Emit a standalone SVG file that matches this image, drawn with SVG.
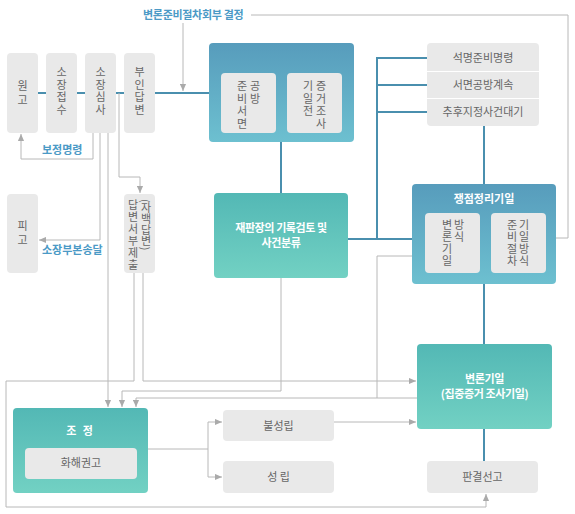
<svg xmlns="http://www.w3.org/2000/svg" width="575" height="514" viewBox="0 0 575 514">
<defs>
<linearGradient id="gBlue" x1="0" y1="0" x2="0" y2="1"><stop offset="0" stop-color="#579cbc"/><stop offset="1" stop-color="#6dc0d0"/></linearGradient>
<linearGradient id="gTeal" x1="0" y1="0" x2="0" y2="1"><stop offset="0" stop-color="#53b8b5"/><stop offset="1" stop-color="#72d1c3"/></linearGradient>
<marker id="ah" viewBox="0 0 8 8" refX="8" refY="4" markerWidth="7" markerHeight="7" markerUnits="userSpaceOnUse" orient="auto"><path d="M0,0.5 L8,4 L0,7.5z" fill="#aaaaaa"/></marker>
<style>
.gb{fill:#e9e9e9}
.t{font-family:"Noto Sans CJK KR","Noto Sans",sans-serif;font-size:11px;fill:#666;text-anchor:middle}
.v{font-family:"Noto Sans CJK KR","Noto Sans",sans-serif;font-size:11px;fill:#666;writing-mode:vertical-rl;text-anchor:start}
.w{font-family:"Noto Sans CJK KR","Noto Sans",sans-serif;font-size:11px;fill:#fff;text-anchor:middle;font-weight:bold}
.lb{font-family:"Noto Sans CJK KR","Noto Sans",sans-serif;font-size:11px;fill:#4b9ac6;font-weight:bold}
.bl{stroke:#4a8fae;stroke-width:2;fill:none}
.gl{stroke:#b8b8b8;stroke-width:1;fill:none}
.ar{marker-end:url(#ah)}
</style>
</defs>

<g id="connectors">
<path class="bl" d="M38,93H46M77,93H85M116,93H124M155,93H209M281,142V193M348,239H412M377,57V239M377,58H427M377,85H427M377,112H427M484,126V184M484,284V344M484,429V461"/>
<path class="gl ar" d="M183,23V91"/>
<path class="gl ar" d="M251,15H568V238H539"/>
<path class="gl ar" d="M93,133V159H21V134"/>
<path class="gl ar" d="M100,133V240H39"/>
<path class="gl ar" d="M108,133V407"/>
<path class="gl ar" d="M119,93V177H140V193"/>
<path class="gl ar" d="M134,273V381H6V507H486V494"/>
<path class="gl ar" d="M143,273V381H416"/>
<path class="gl ar" d="M281,278V391H122V407"/>
<path class="gl" d="M412,256H377V398"/>
<path class="gl ar" d="M417,398H136V407"/>
<path class="gl" d="M148,449H208M208,422V477"/>
<path class="gl ar" d="M208,422H222"/>
<path class="gl ar" d="M208,477H222"/>
<path class="gl ar" d="M334,422H416"/>
</g>

<g id="labels">
<text class="lb" x="143" y="19" letter-spacing="-0.3">변론준비절차회부 결정</text>
<text class="lb" x="42" y="154">보정명령</text>
<text class="lb" x="42" y="254">소장부본송달</text>
</g>

<g id="wongo">
<rect class="gb" x="7" y="53" width="31" height="80" rx="4"/>
<text class="v" x="22.5" y="80" font-size="12" letter-spacing="3">원고</text>
</g>
<g id="sojang-jeopsu">
<rect class="gb" x="46" y="53" width="31" height="80" rx="4"/>
<text class="v" x="61.5" y="66.75" font-size="12" letter-spacing="1.5">소장접수</text>
</g>
<g id="sojang-simsa">
<rect class="gb" x="85" y="53" width="31" height="80" rx="4"/>
<text class="v" x="100.5" y="66.75" font-size="12" letter-spacing="1.5">소장심사</text>
</g>
<g id="buin-dapbyeon">
<rect class="gb" x="124" y="53" width="31" height="80" rx="4"/>
<text class="v" x="139.5" y="66.75" font-size="12" letter-spacing="1.5">부인답변</text>
</g>
<g id="pigo">
<rect class="gb" x="7" y="194" width="31" height="79" rx="4"/>
<text class="v" x="22.5" y="220" font-size="12" letter-spacing="3">피고</text>
</g>
<g id="dapbyeonseo">
<rect class="gb" x="124" y="194" width="31" height="79" rx="4"/>
<text class="v" x="133" y="199.5" letter-spacing="1">답변서부제출</text>
<text class="v" x="146" y="199">(자백답변)</text>
</g>

<g id="junbi">
<rect x="209" y="43" width="145" height="99" rx="4" fill="url(#gBlue)"/>
<rect class="gb" x="221" y="73" width="55" height="60" rx="4"/>
<text class="v" x="242" y="80.5" letter-spacing="1.5">준비서면</text>
<text class="v" x="255" y="80.5" letter-spacing="1.5">공방</text>
<rect class="gb" x="287" y="73" width="55" height="60" rx="4"/>
<text class="v" x="308" y="80.5" letter-spacing="1.5">기일전</text>
<text class="v" x="321" y="80.5" letter-spacing="1.5">증거조사</text>
</g>

<g id="jaepanjang">
<rect x="214" y="193" width="134" height="85" rx="4" fill="url(#gTeal)"/>
<text class="w" font-size="10.5" letter-spacing="-0.4"><tspan x="281" y="232">재판장의 기록검토 및</tspan><tspan x="281" y="247">사건분류</tspan></text>
</g>

<g id="result-list">
<rect class="gb" x="427" y="43" width="112" height="83" rx="4"/>
<path d="M427,71.5H539M427,98.5H539" stroke="#fff" stroke-width="1"/>
<text class="t" font-size="10.5"><tspan x="483" y="62">석명준비명령</tspan><tspan x="483" y="89">서면공방계속</tspan><tspan x="483" y="116">추후지정사건대기</tspan></text>
</g>

<g id="jaengjeom">
<rect x="412" y="184" width="144" height="100" rx="4" fill="url(#gBlue)"/>
<text class="w" x="484" y="203">쟁점정리기일</text>
<rect class="gb" x="425" y="213" width="55" height="60" rx="4"/>
<text class="v" x="447" y="219.5" letter-spacing="1">변론기일</text>
<text class="v" x="459" y="219.5" letter-spacing="1">방식</text>
<rect class="gb" x="491" y="213" width="55" height="60" rx="4"/>
<text class="v" x="512" y="219.5" letter-spacing="1">준비절차</text>
<text class="v" x="524" y="219.5" letter-spacing="1">기일방식</text>
</g>

<g id="byeollon">
<rect x="417" y="344" width="135" height="85" rx="4" fill="url(#gTeal)"/>
<text class="w" font-size="10.5" letter-spacing="-0.4"><tspan x="484.5" y="383">변론기일</tspan><tspan x="484.5" y="398">(집중증거 조사기일)</tspan></text>
</g>

<g id="panggyeol">
<rect class="gb" x="427" y="461" width="111" height="32" rx="4"/>
<text class="t" x="482.5" y="481">판결선고</text>
</g>

<g id="jojeong">
<rect x="13" y="408" width="135" height="85" rx="4" fill="url(#gTeal)"/>
<text class="w" x="80.5" y="435" letter-spacing="2">조 정</text>
<rect class="gb" x="25" y="448" width="112" height="31" rx="4"/>
<text class="t" x="81" y="467">화해권고</text>
</g>

<g id="bulseongrip">
<rect class="gb" x="223" y="410" width="111" height="31" rx="4"/>
<text class="t" x="278.5" y="429.5">불성립</text>
</g>
<g id="seongrip">
<rect class="gb" x="223" y="461" width="111" height="32" rx="4"/>
<text class="t" x="278.5" y="481">성 립</text>
</g>
</svg>
